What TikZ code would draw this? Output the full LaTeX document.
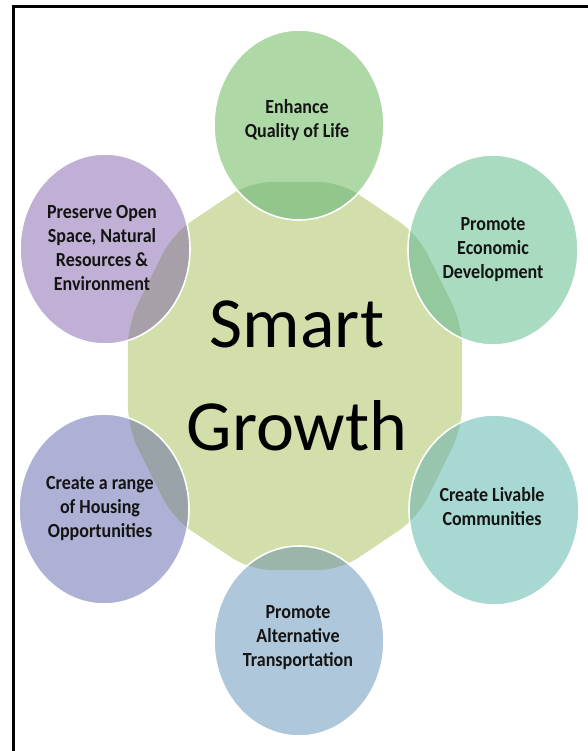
\documentclass[tikz,border=0pt]{standalone}
\usepackage{fontspec}
\setmainfont{Carlito}
\newfontfamily\lblfont{Carlito}[FakeStretch=0.9]
\usetikzlibrary{shapes.geometric}
\definecolor{hubc}{HTML}{D2DFAB}
\definecolor{cTop}{HTML}{AED8A6}
\definecolor{oTop}{HTML}{92C68C}
\definecolor{cTR}{HTML}{A9DBC0}
\definecolor{oTR}{HTML}{94C99E}
\definecolor{cBR}{HTML}{A8D8D2}
\definecolor{oBR}{HTML}{97C5AE}
\definecolor{cBot}{HTML}{AFC7DA}
\definecolor{oBot}{HTML}{9BB6A8}
\definecolor{cBL}{HTML}{AEB1D5}
\definecolor{oBL}{HTML}{9AA3A8}
\definecolor{cTL}{HTML}{C0B0D6}
\definecolor{oTL}{HTML}{A8A0A9}
\definecolor{txt}{HTML}{141414}
\begin{document}
\begin{tikzpicture}[x=1bp,y=-1bp,
  bubble/.style={ellipse, inner sep=0pt, minimum width=170bp, minimum height=190bp},
  lbl/.style={font=\lblfont\bfseries\fontsize{20bp}{24bp}\selectfont, align=center, text=txt, inner sep=0pt},
  big/.style={font=\fontsize{72bp}{80bp}\selectfont, text=black, inner sep=0pt, anchor=base},
  hubshape/.style={rounded corners=22bp}]
\useasboundingbox (0,0) rectangle (588,751);
\fill[white] (0,0) rectangle (588,751);
% hub
\coordinate (hub) at (295,376);
\fill[hubc, hubshape] plot[samples at={15,45,...,345}] ({295+173*cos(\x)},{376+201*sin(\x)}) -- cycle;
% outer bubbles
\foreach \n/\cx/\cy/\fc/\oc in {top/299/125/cTop/oTop, tr/493/250/cTR/oTR, br/494/510/cBR/oBR, bot/299/641/cBot/oBot, bl/104/509/cBL/oBL, tl/105/249/cTL/oTL}{
  \node[bubble, fill=\fc] (\n) at (\cx,\cy) {};
  \begin{scope}
    \clip (\cx,\cy) ellipse [x radius=85, y radius=95];
    \fill[\oc, hubshape] plot[samples at={15,45,...,345}] ({295+173*cos(\x)},{376+201*sin(\x)}) -- cycle;
  \end{scope}
  \draw[white, line width=1.6bp] (\cx,\cy) ellipse [x radius=85, y radius=95];
}
% labels
\node[lbl] (t1) at (297,120) {Enhance\\Quality of Life};
\node[lbl] (t2) at (493,250) {Promote\\Economic\\Development};
\node[lbl] (t3) at (102,248.5) {Preserve Open\\Space, Natural\\Resources \&\\Environment};
\node[lbl] (t4) at (100,508.5) {Create a range\\of Housing\\Opportunities};
\node[lbl] (t5) at (492,506.5) {Create Livable\\Communities};
\node[lbl] (t6) at (298,637.5) {Promote\\Alternative\\Transportation};
\node[big] (smart) at (297,347) {Smart};
\node[big] (growth) at (297,450) {Growth};
% frame
\draw[line width=2.6bp, line join=miter] (13.5,751) -- (13.5,6.3) -- (588,6.3);
\end{tikzpicture}
\end{document}
